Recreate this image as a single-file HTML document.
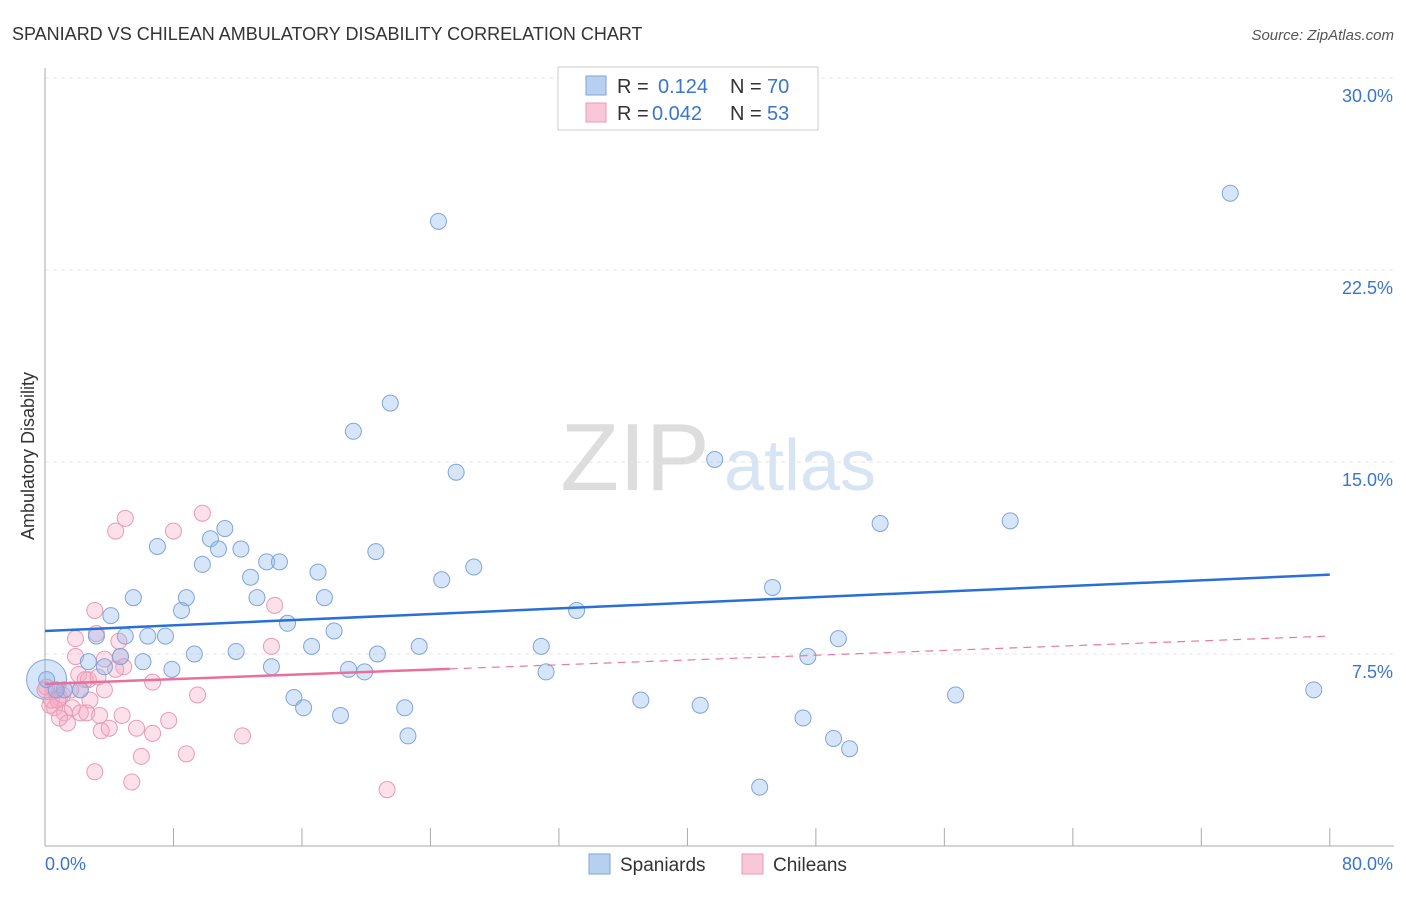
<!DOCTYPE html>
<html><head><meta charset="utf-8"><style>
body{margin:0;background:#fff;font-family:"Liberation Sans",sans-serif;}
svg text{font-family:"Liberation Sans",sans-serif;}
</style></head><body>
<svg id="c" width="1406" height="892">
<text x="12" y="40" font-size="18" fill="#333">SPANIARD VS CHILEAN AMBULATORY DISABILITY CORRELATION CHART</text>
<text x="1394" y="40" font-size="15" fill="#555" text-anchor="end" font-style="italic">Source: ZipAtlas.com</text>
<text x="0" y="0" transform="translate(34,456) rotate(-90)" font-size="18" fill="#333" text-anchor="middle">Ambulatory Disability</text>
<g><text x="635" y="490" font-size="96" fill="#ddd" text-anchor="middle" font-family="Liberation Serif">ZIP</text><text x="800" y="490" font-size="72" fill="#d7e4f4" text-anchor="middle">atlas</text></g>
<g id="grid"></g><g id="axes"></g><g id="marks"></g>
<g>
<rect x="558" y="67" width="260" height="63" fill="#fff" stroke="#ccc"/>
<rect x="586" y="76" width="20" height="19" fill="#b8d0f0" stroke="#7ea5dc"/>
<rect x="586" y="103" width="20" height="19" fill="#f8c8d8" stroke="#e89ab4"/>
<text x="617" y="93" font-size="20" fill="#333">R =</text><text x="658" y="93" font-size="20" fill="#3a74d0">0.124</text>
<text x="730" y="93" font-size="20" fill="#333">N =</text><text x="767" y="93" font-size="20" fill="#3a74d0">70</text>
<text x="617" y="120" font-size="20" fill="#333">R =</text><text x="652" y="120" font-size="20" fill="#3a74d0">0.042</text>
<text x="730" y="120" font-size="20" fill="#333">N =</text><text x="767" y="120" font-size="20" fill="#3a74d0">53</text>
</g>
<g>
<rect x="589" y="854" width="21" height="20" fill="#b8d0f0" stroke="#7ea5dc"/>
<text x="620" y="871" font-size="19" fill="#333">Spaniards</text>
<rect x="742" y="854" width="21" height="20" fill="#f8c8d8" stroke="#e89ab4"/>
<text x="773" y="871" font-size="19" fill="#333">Chileans</text>
</g>
</svg>
<script>
const xTicks=[0,8,16,24,32,40,48,56,64,72,80];
const yTicks=[7.5,15,22.5,30];
const yTickLabels=["7.5%","15.0%","22.5%","30.0%"];
const blueX=[24.5,73.8,21.5,19.2,25.6,41.7,52,60.1,11.2,10.3,7,12.2,10.8,20.6,13.8,14.6,9.8,26.7,17,12.8,24.7,45.3,5.5,8.8,17.4,13.2,8.5,33.1,4.1,15.1,18,5,6.4,7.5,3.2,49.4,23.3,30.9,16.6,11.9,9.3,20.7,47.5,4.7,6.1,2.7,3.7,7.9,14.1,18.9,19.9,31.2,0.1,1.2,2.2,0.7,79,15.5,37.1,56.7,40.8,16.1,22.4,18.4,47.2,49.1,50.1,22.6,44.5];
const blueY=[24.4,25.5,17.3,16.2,14.6,15.1,12.6,12.7,12.4,12,11.7,11.6,11.6,11.5,11.1,11.1,11,10.9,10.7,10.5,10.4,10.1,9.7,9.7,9.7,9.7,9.2,9.2,9,8.7,8.4,8.2,8.2,8.2,8.2,8.1,7.8,7.8,7.8,7.6,7.5,7.5,7.4,7.4,7.2,7.2,7,6.9,7,6.9,6.8,6.8,6.5,6.1,6.1,6.1,6.1,5.8,5.7,5.9,5.5,5.4,5.4,5.1,5,4.2,3.8,4.3,2.3];
const pinkX=[5,9.8,8,4.4,3.1,14.3,1.9,3.2,4.6,14.1,1.9,3.7,4.7,4.9,4.4,2.1,2.7,2.5,3.3,6.7,0.1,0.6,2.2,3.7,9.5,0.9,2.8,0.3,0.6,1.7,2.2,1.2,2.6,3.4,4.8,0.9,1.4,7.7,3.5,4,5.7,6.7,12.3,6,8.8,3.1,5.4,21.3,0.4,1.1,1.6,0.8,0];
const pinkY=[12.8,13,12.3,12.3,9.2,9.4,8.1,8.3,8,7.8,7.4,7.3,7.4,7,6.9,6.7,6.5,6.5,6.6,6.4,6.2,6.1,6.1,6.1,5.9,5.8,5.7,5.5,5.4,5.4,5.2,5.2,5.2,5.1,5.1,5,4.8,4.9,4.5,4.6,4.6,4.4,4.3,3.5,3.6,2.9,2.5,2.2,5.7,5.9,6.1,5.7,6.1];
const blueFit=[8.4,10.6], pinkFit=[6.33,8.2], pinkSolidEnd=25.2;
const X=v=>45+v*16.06, Y=v=>846-v*25.6;
const NS="http://www.w3.org/2000/svg";
function mk(t,a,p){const e=document.createElementNS(NS,t);for(const k in a)e.setAttribute(k,a[k]);p.appendChild(e);return e;}
const grid=document.getElementById('grid'),axes=document.getElementById('axes'),marks=document.getElementById('marks');
yTicks.forEach((t,i)=>{const l=mk('line',{x1:45,x2:1394,y1:Y(t),y2:Y(t),stroke:'#e4e4e4','stroke-dasharray':'4,4'},grid);


const tx=mk('text',{x:1393,y:Y(t)+24,'font-size':18,fill:'#3a74d0','text-anchor':'end'},axes);tx.textContent=yTickLabels[i];

});
const topLine=mk('line',{x1:45,x2:1394,y1:78,y2:78,stroke:'#e4e4e4','stroke-dasharray':'4,4'},grid);


mk('line',{x1:45,x2:45,y1:68,y2:846,stroke:'#aaa'},axes);
mk('line',{x1:45,x2:1394,y1:846,y2:846,stroke:'#aaa'},axes);
xTicks.forEach(t=>{const l=mk('line',{x1:X(t),x2:X(t),y1:828,y2:846,stroke:'#aaa'},axes);

});
const x0=mk('text',{x:45,y:870,'font-size':18,fill:'#3a74d0'},axes);x0.textContent='0.0%';


const x1=mk('text',{x:1393,y:870,'font-size':18,fill:'#3a74d0','text-anchor':'end'},axes);x1.textContent='80.0%';


const big=mk('circle',{cx:X(0.1),cy:Y(6.5),r:20,fill:'rgba(140,180,235,0.35)',stroke:'#7ea5dc'},marks);


pinkX.forEach((v,i)=>{const c=mk('circle',{cx:X(v),cy:Y(pinkY[i]),r:8,fill:'rgba(245,170,195,0.35)',stroke:'#e89ab4'},marks);

});
blueX.forEach((v,i)=>{const c=mk('circle',{cx:X(v),cy:Y(blueY[i]),r:8,fill:'rgba(140,180,235,0.35)',stroke:'#7ea5dc'},marks);

});
const pAt=x=>pinkFit[0]+(pinkFit[1]-pinkFit[0])*x/80;
const pd=mk('line',{x1:X(pinkSolidEnd),y1:Y(pAt(pinkSolidEnd)),x2:X(80),y2:Y(pinkFit[1]),stroke:'#e87aa0','stroke-width':1.2,'stroke-dasharray':'8,6'},marks);


const ps=mk('line',{x1:X(0),y1:Y(pinkFit[0]),x2:X(pinkSolidEnd),y2:Y(pAt(pinkSolidEnd)),stroke:'#e8709a','stroke-width':2.5},marks);


const bl=mk('line',{x1:X(0),y1:Y(blueFit[0]),x2:X(80),y2:Y(blueFit[1]),stroke:'#2a6fd6','stroke-width':2.5},marks);


</script>
</body></html>
